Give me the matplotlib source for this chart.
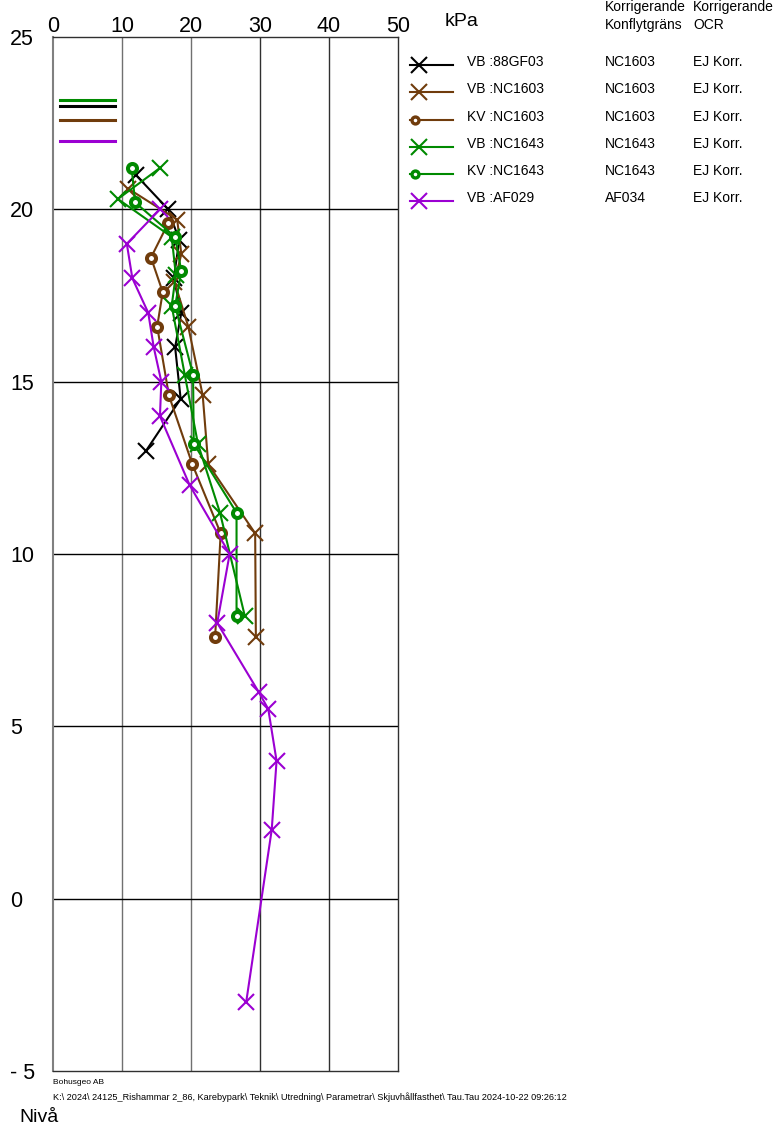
import matplotlib
matplotlib.use('Agg')
import matplotlib.pyplot as plt
from matplotlib.lines import Line2D

plt.rcParams['font.family'] = ['Liberation Sans', 'DejaVu Sans']

# shear strength profiles (kPa vs level)
vb_88gf03_x = [12.0, 16.7, 18.3, 17.5, 18.6, 17.7, 18.5, 13.5]
vb_88gf03_y = [21.0, 20.0, 19.1, 18.0, 17.0, 16.0, 14.5, 13.0]

vb_nc1603_x = [10.9, 18.0, 18.6, 17.6, 19.6, 21.7, 22.5, 29.3, 29.4]
vb_nc1603_y = [20.6, 19.7, 18.7, 17.9, 16.6, 14.6, 12.6, 10.6, 7.6]

kv_nc1603_x = [16.7, 14.2, 15.9, 15.1, 16.8, 20.2, 24.3, 23.5]
kv_nc1603_y = [19.6, 18.6, 17.6, 16.6, 14.6, 12.6, 10.6, 7.6]

vb_nc1643_x = [15.5, 9.4, 17.2, 17.8, 17.2, 19.1, 21.0, 24.2, 27.8]
vb_nc1643_y = [21.2, 20.3, 19.2, 18.1, 17.2, 15.2, 13.2, 11.2, 8.2]

kv_nc1643_x = [11.4, 11.9, 17.7, 18.6, 17.7, 20.3, 20.4, 26.6, 26.6]
kv_nc1643_y = [21.2, 20.2, 19.2, 18.2, 17.2, 15.2, 13.2, 11.2, 8.2]

vb_af029_x = [15.5, 10.7, 11.5, 13.8, 14.6, 15.7, 15.5, 19.8, 25.6, 23.8, 29.8, 31.2, 32.4, 31.7, 28.0]
vb_af029_y = [20.0, 19.0, 18.0, 17.0, 16.0, 15.0, 14.0, 12.0, 10.0, 8.0, 6.0, 5.5, 4.0, 2.0, -3.0]

# reference levels drawn at top left
ref_levels = [23.17, 23.0, 22.6, 21.98]
ref_x = [1.0, 9.0]

black = '#000000'
brown = '#703c0c'
green = '#008a00'
purple = '#9b00d2'
ref_colors = [green, black, brown, purple]

series = [
    ('VB :88GF03', vb_88gf03_x, vb_88gf03_y, black, 'x', 'NC1603', 'EJ Korr.'),
    ('VB :NC1603', vb_nc1603_x, vb_nc1603_y, brown, 'x', 'NC1603', 'EJ Korr.'),
    ('KV :NC1603', kv_nc1603_x, kv_nc1603_y, brown, 'o', 'NC1603', 'EJ Korr.'),
    ('VB :NC1643', vb_nc1643_x, vb_nc1643_y, green, 'x', 'NC1643', 'EJ Korr.'),
    ('KV :NC1643', kv_nc1643_x, kv_nc1643_y, green, 'o', 'NC1643', 'EJ Korr.'),
    ('VB :AF029', vb_af029_x, vb_af029_y, purple, 'x', 'AF034', 'EJ Korr.'),
]

W, H = 778, 1128
fig = plt.figure(figsize=(W / 100, H / 100), dpi=100)
ax = fig.add_axes([53 / W, 1 - 1071 / H, 345 / W, (1071 - 37) / H])
ax.set_xlim(0, 50)
ax.set_ylim(-5, 25)

# grid
for gx in [10, 20, 30, 40]:
    ax.axvline(gx, color='#707070' if gx < 30 else '#303030', lw=1.0, zorder=1)
for gy in [0, 5, 10, 15, 20]:
    ax.axhline(gy, color='#000000', lw=1.0, zorder=1)
for name, sp in ax.spines.items():
    sp.set_linewidth(1.0)
    sp.set_color('#303030')
ax.spines['left'].set_color('#808080')
ax.spines['left'].set_linewidth(1.5)

ax.xaxis.tick_top()
ax.set_xticks([0, 10, 20, 30, 40, 50])
ax.set_xticklabels(['0', '10', '20', '30', '40', '50'])
ax.tick_params(axis='x', length=0, pad=0, labelsize=15.5)
ax.set_yticks([-5, 0, 5, 10, 15, 20, 25])
ax.set_yticklabels(['- 5', '0', '5', '10', '15', '20', '25'])
ax.tick_params(axis='y', length=0, pad=31, labelsize=15.5)
for lab in ax.get_yticklabels():
    lab.set_horizontalalignment('left')

for lvl, c in zip(ref_levels, ref_colors):
    ax.plot(ref_x, [lvl, lvl], color=c, lw=2.2, zorder=3)

for name, xs, ys, c, m, k1, k2 in series:
    if m == 'x':
        ax.plot(xs, ys, color=c, lw=1.5, marker='x', ms=11, mew=1.5, zorder=4)
    else:
        ax.plot(xs, ys, color=c, lw=1.5, marker='o', ms=6.5, mec=c, mfc='white', mew=2.9, zorder=4)

# legend / table at right
fig.text(445 / W, 1 - 21 / H, 'kPa', fontsize=14, va='center', ha='left')
fig.text(605 / W, 1 - 7 / H, 'Korrigerande', fontsize=10, va='center', ha='left')
fig.text(605 / W, 1 - 25 / H, 'Konflytgräns', fontsize=10, va='center', ha='left')
fig.text(693 / W, 1 - 7 / H, 'Korrigerande', fontsize=10, va='center', ha='left')
fig.text(693 / W, 1 - 25 / H, 'OCR', fontsize=10, va='center', ha='left')
for i, (name, xs, ys, c, m, k1, k2) in enumerate(series):
    yy = 1 - (62 + i * 27.3) / H
    ly = yy - 3 / H
    fig.lines.append(Line2D([410 / W, 453 / W], [ly, ly], color=c, lw=1.5,
                            transform=fig.transFigure))
    if m == 'x':
        fig.lines.append(Line2D([419 / W], [ly], color=c, marker='x', ms=12, mew=1.5,
                                transform=fig.transFigure))
    else:
        fig.lines.append(Line2D([415 / W], [ly], color=c, marker='o', ms=5, mec=c,
                                mfc='white', mew=2.4, transform=fig.transFigure))
    fig.text(467 / W, yy, name, fontsize=10, va='center', ha='left')
    fig.text(605 / W, yy, k1, fontsize=10, va='center', ha='left')
    fig.text(693 / W, yy, k2, fontsize=10, va='center', ha='left')

# footer
fig.text(53 / W, 1 - 1082 / H, 'Bohusgeo AB', fontsize=6, va='center', ha='left')
fig.text(53 / W, 1 - 1097 / H,
         'K:\\ 2024\\ 24125_Rishammar 2_86, Karebypark\\ Teknik\\ Utredning\\ Parametrar\\ Skjuvhållfasthet\\ Tau.Tau 2024-10-22 09:26:12',
         fontsize=6.6, va='center', ha='left')
fig.text(19 / W, 1 - 1117 / H, 'Nivå', fontsize=14, va='center', ha='left')

fig.savefig('out.png', dpi=100)
